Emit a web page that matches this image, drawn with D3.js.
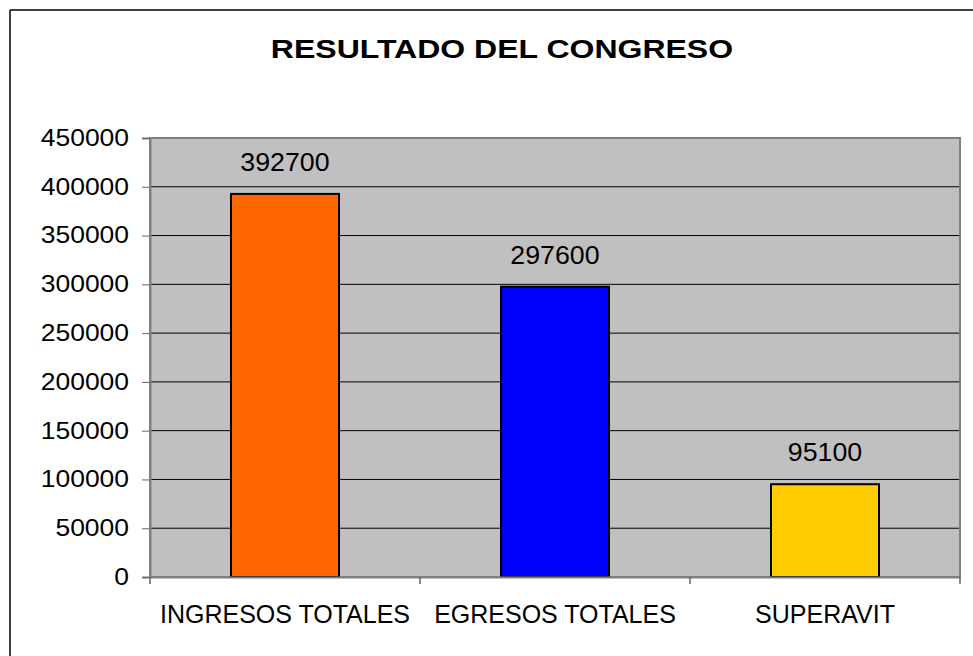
<!DOCTYPE html>
<html>
<head>
<meta charset="utf-8">
<script src="https://cdn.jsdelivr.net/npm/d3@7"></script>
<style>
  body { margin: 0; background: #fff; }
  text { font-family: "Liberation Sans", Arial, sans-serif; }
</style>
</head>
<body>
<div id="chart"></div>
<script>
// chart data
var categories = ["INGRESOS TOTALES", "EGRESOS TOTALES", "SUPERAVIT"];
var values = [392700, 297600, 95100];
var barColors = ["#FF6600", "#0000FF", "#FFCC00"];
var yTicks = [0, 50000, 100000, 150000, 200000, 250000, 300000, 350000, 400000, 450000];
var titleText = "RESULTADO DEL CONGRESO";

var width = 973, height = 656;
var margin = { top: 138, right: 13, bottom: 79, left: 150 };
var innerWidth = width - margin.left - margin.right;
var innerHeight = height - margin.top - margin.bottom;

// widen a text's glyphs a bit, the original chart was stretched sideways
function stretch(sel, factor) {
    sel.each(function () {
        var len = this.getComputedTextLength();
        d3.select(this)
            .attr("textLength", len * factor)
            .attr("lengthAdjust", "spacingAndGlyphs");
    });
}

var svg = d3.select("#chart").append("svg")
    .attr("width", width)
    .attr("height", height);

// outer chart border (only top and left edges are in frame)
svg.append("line")
    .attr("x1", 10).attr("x2", 10).attr("y1", 10).attr("y2", height)
    .attr("stroke", "#000").attr("stroke-width", 1.5);
svg.append("line")
    .attr("x1", 10).attr("x2", width).attr("y1", 10).attr("y2", 10)
    .attr("stroke", "#000").attr("stroke-width", 1.5);

// title
svg.append("text")
    .attr("x", 502)
    .attr("y", 58)
    .attr("text-anchor", "middle")
    .attr("font-size", 25)
    .attr("font-weight", "bold")
    .attr("fill", "#000")
    .text(titleText)
    .call(stretch, 1.28);

var x = d3.scaleBand()
    .domain(categories)
    .range([0, innerWidth])
    .paddingInner(0)
    .paddingOuter(0);

var y = d3.scaleLinear()
    .domain([0, 450000])
    .range([innerHeight, 0]);

var g = svg.append("g")
    .attr("transform", `translate(${margin.left}, ${margin.top})`);

// plot background
g.append("rect")
    .attr("width", innerWidth)
    .attr("height", innerHeight)
    .attr("fill", "#C0C0C0");

// gridlines
g.selectAll(".grid")
    .data(yTicks.filter(d => d > 0))
    .enter().append("line")
    .attr("x1", 0).attr("x2", innerWidth)
    .attr("y1", d => y(d)).attr("y2", d => y(d))
    .attr("stroke", "#000")
    .attr("stroke-width", 1);

// plot border
g.append("rect")
    .attr("width", innerWidth)
    .attr("height", innerHeight)
    .attr("fill", "none")
    .attr("stroke", "#808080")
    .attr("stroke-width", 2);

// bars (40% of each category slot)
var barW = x.bandwidth() * 0.4;
g.selectAll(".bar")
    .data(values)
    .enter().append("rect")
    .attr("x", (d, i) => x(categories[i]) + (x.bandwidth() - barW) / 2)
    .attr("y", d => y(d))
    .attr("width", barW)
    .attr("height", d => innerHeight - y(d))
    .attr("fill", (d, i) => barColors[i])
    .attr("stroke", "#000")
    .attr("stroke-width", 2);

// value labels
g.selectAll(".val")
    .data(values)
    .enter().append("text")
    .attr("x", (d, i) => x(categories[i]) + x.bandwidth() / 2)
    .attr("y", d => y(d) - 23)
    .attr("text-anchor", "middle")
    .attr("font-size", 25)
    .attr("fill", "#000")
    .text(d => d)
    .call(stretch, 1.07);

// y axis
var yAxis = g.append("g")
    .call(d3.axisLeft(y).tickValues(yTicks).tickSize(8).tickPadding(13).tickFormat(d3.format("d")));
yAxis.select(".domain").attr("stroke", "#808080").attr("stroke-width", 2);
yAxis.selectAll("line").attr("stroke", "#666");
yAxis.selectAll("text")
    .attr("font-size", 23)
    .attr("fill", "#000")
    .call(stretch, 1.15);

// x axis
var xAxis = g.append("g")
    .attr("transform", `translate(0, ${innerHeight})`)
    .call(d3.axisBottom(x).tickSize(0).tickPadding(0));
xAxis.select(".domain").attr("stroke", "#808080").attr("stroke-width", 2);
xAxis.selectAll("text")
    .attr("font-size", 25)
    .attr("fill", "#000")
    .attr("y", 46)
    .attr("dy", 0);

// category boundary ticks under the axis
var bounds = categories.map(c => x(c)).concat([innerWidth]);
xAxis.selectAll(".bound")
    .data(bounds)
    .enter().append("line")
    .attr("x1", d => d).attr("x2", d => d)
    .attr("y1", 0).attr("y2", 7)
    .attr("stroke", "#666")
    .attr("stroke-width", 1.5);
</script>
</body>
</html>
